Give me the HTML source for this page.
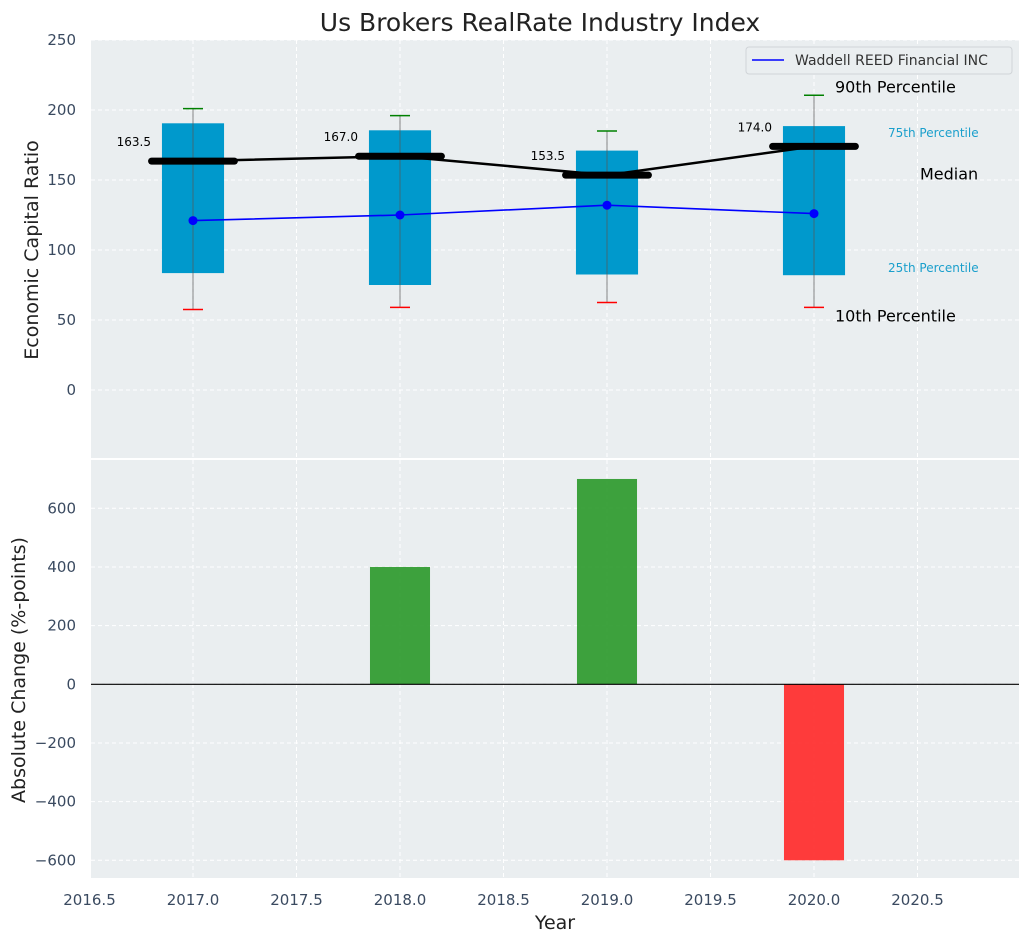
<!DOCTYPE html>
<html><head><meta charset="utf-8"><style>
body{margin:0;background:#fff;font-family:"Liberation Sans","DejaVu Sans",sans-serif;}
svg text{font-family:"DejaVu Sans","Liberation Sans",sans-serif;}
</style></head><body>
<svg id="c" width="1029" height="942" xmlns="http://www.w3.org/2000/svg"></svg>
<script>
const years=[2017,2018,2019,2020];
const p10=[57.5,59,62.5,59];
const p25=[83.5,75,82.5,82];
const median=[163.5,167.0,153.5,174.0];
const p75=[190.5,185.5,171,188.5];
const p90=[201,196,185,210.5];
const waddell=[121,125,132,126];
const changeYears=[2018,2019,2020];
const changes=[400,700,-600];
const xTicks=[2016.5,2017.0,2017.5,2018.0,2018.5,2019.0,2019.5,2020.0,2020.5];
const topTicks=[0,50,100,150,200,250];
const botTicks=[-600,-400,-200,0,200,400,600];

const NS="http://www.w3.org/2000/svg";
const svg=document.getElementById('c');
function el(tag,attrs,parent,text){const e=document.createElementNS(NS,tag);for(const k in attrs)e.setAttribute(k,attrs[k]);if(text!==undefined)e.textContent=text;(parent||svg).appendChild(e);return e;}
const L=91,R=1019;
const X=v=>193+(v-2017)*207;
const Y1=v=>390-v*1.4;
const Y2=v=>684.3-v*(176/600);
let e;
e=el('rect',{x:L,y:40,width:R-L,height:418,fill:'#eaeef0'});

e=el('rect',{x:L,y:460,width:R-L,height:418,fill:'#eaeef0'});

xTicks.forEach(t=>{
 [[40,458],[460,878]].forEach(r=>{e=el('line',{x1:X(t),x2:X(t),y1:r[0],y2:r[1],stroke:'#fff','stroke-dasharray':'4,3','stroke-width':1});});
 e=el('text',{x:X(t),y:905,'text-anchor':'middle','font-size':15,fill:'#3a4a60'},null,t.toFixed(1));
 
});
topTicks.forEach(t=>{
 e=el('line',{x1:L,x2:R,y1:Y1(t),y2:Y1(t),stroke:'#fff','stroke-dasharray':'4,3'});
 e=el('text',{x:76,y:Y1(t)+5,'text-anchor':'end','font-size':15,fill:'#3a4a60'},null,String(t));
 
});
botTicks.forEach(t=>{
 e=el('line',{x1:L,x2:R,y1:Y2(t),y2:Y2(t),stroke:'#fff','stroke-dasharray':'4,3'});
 e=el('text',{x:76,y:Y2(t)+5,'text-anchor':'end','font-size':15,fill:'#3a4a60'},null,(t<0?'\u2212'+(-t):String(t)));
 
});
years.forEach((y,i)=>{
 const cx=X(y),w=0.15*207;
 e=el('rect',{x:cx-w,y:Y1(p75[i]),width:2*w,height:Y1(p25[i])-Y1(p75[i]),fill:'#0099cc'});
 
 e=el('line',{x1:cx,x2:cx,y1:Y1(p90[i]),y2:Y1(p10[i]),stroke:'#555','stroke-opacity':0.7,'stroke-width':1});
 
 e=el('line',{x1:cx-10,x2:cx+10,y1:Y1(p90[i]),y2:Y1(p90[i]),stroke:'green','stroke-width':1.5});
 
 e=el('line',{x1:cx-10,x2:cx+10,y1:Y1(p10[i]),y2:Y1(p10[i]),stroke:'red','stroke-width':1.5});
 
});
e=el('polyline',{points:years.map((y,i)=>X(y)+','+Y1(median[i])).join(' '),fill:'none',stroke:'#000','stroke-width':2.5});

years.forEach((y,i)=>{
 const cx=X(y);
 e=el('line',{x1:cx-0.2*207,x2:cx+0.2*207,y1:Y1(median[i]),y2:Y1(median[i]),stroke:'#000','stroke-width':7,'stroke-linecap':'round'});
 
 e=el('text',{x:cx-42,y:Y1(median[i])-15,'text-anchor':'end','font-size':12,fill:'#000'},null,median[i].toFixed(1));
 
});
e=el('polyline',{points:years.map((y,i)=>X(y)+','+Y1(waddell[i])).join(' '),fill:'none',stroke:'#0000ff','stroke-width':1.6});

years.forEach((y,i)=>{e=el('circle',{cx:X(y),cy:Y1(waddell[i]),r:4.5,fill:'#0000ff'});});
const last=3,ax=X(2020);
[['90th Percentile',ax+21,Y1(p90[last])-3,16,'#000'],['75th Percentile',ax+74,Y1(p75[last])+11,12,'#1a9fcc'],['Median',ax+106,Y1(median[last])+33,16,'#000'],['25th Percentile',ax+74,Y1(p25[last])-3,12,'#1a9fcc'],['10th Percentile',ax+21,Y1(p10[last])+14,16,'#000']].forEach(a=>{
 e=el('text',{x:a[1],y:a[2],'font-size':a[3],fill:a[4]},null,a[0]);
 
});
const lg=el('g',{});

el('rect',{x:746,y:47,width:266,height:27,rx:3,fill:'#eaeef0',stroke:'#d0d4d8'},lg);
el('line',{x1:752,x2:784,y1:60,y2:60,stroke:'#0000ff','stroke-width':1.6},lg);
el('text',{x:795,y:65,'font-size':14,fill:'#333'},lg,'Waddell REED Financial INC');
changeYears.forEach((y,i)=>{
 const v=changes[i],w=0.145*207;
 e=el('rect',{x:X(y)-w,y:Math.min(Y2(v),Y2(0)),width:2*w,height:Math.abs(Y2(v)-Y2(0)),fill:v>=0?'#2e9a2e':'#ff2b2b','fill-opacity':0.92});
 
});
e=el('line',{x1:L,x2:R,y1:Y2(0),y2:Y2(0),stroke:'#000','stroke-width':1.2});

e=el('text',{x:540,y:31,'text-anchor':'middle','font-size':25,fill:'#222'},null,'Us Brokers RealRate Industry Index');

e=el('text',{x:555,y:929,'text-anchor':'middle','font-size':19,fill:'#222'},null,'Year');

e=el('text',{x:0,y:0,'text-anchor':'middle','font-size':19,fill:'#222',transform:'translate(38,250) rotate(-90)'},null,'Economic Capital Ratio');

e=el('text',{x:0,y:0,'text-anchor':'middle','font-size':19,fill:'#222',transform:'translate(25,670) rotate(-90)'},null,'Absolute Change (%-points)');

</script>
</body></html>
